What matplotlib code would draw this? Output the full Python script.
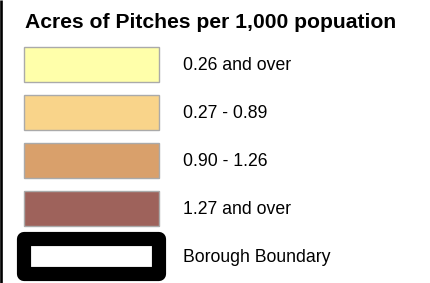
import matplotlib
matplotlib.use('Agg')
import matplotlib.pyplot as plt
from matplotlib.patches import Rectangle

plt.rcParams['font.family'] = ['Liberation Sans', 'DejaVu Sans']

title = "Acres of Pitches per 1,000 popuation"
labels = ["0.26 and over", "0.27 - 0.89", "0.90 - 1.26", "1.27 and over"]
colors = ["#FFFFAA", "#F9D48A", "#D9A06B", "#9E625B"]
boundary_label = "Borough Boundary"

W, H = 430, 283
fig = plt.figure(figsize=(W / 100, H / 100), dpi=100)
ax = fig.add_axes([0, 0, 1, 1])
ax.set_xlim(0, W)
ax.set_ylim(H, 0)
ax.axis('off')

# left frame line
ax.plot([1.2, 1.2], [0, H], color='black', lw=1.9, solid_capstyle='butt')

ax.text(25, 28, title, fontsize=15.2, fontweight='bold', va='baseline', ha='left')

x0, sw_w, sw_h = 24, 135, 35
top0, step = 47, 48
for i, (lab, col) in enumerate(zip(labels, colors)):
    y = top0 + i * step
    ax.add_patch(Rectangle((x0, y), sw_w, sw_h, facecolor=col,
                           edgecolor='#AAAAAA', lw=1.0))
    ax.text(183, y + sw_h / 2 + 1, lab, fontsize=12.7, va='center', ha='left')

# borough boundary symbol
by = top0 + 4 * step - 0.5
ax.add_patch(Rectangle((x0, by), sw_w, sw_h, facecolor='white',
                       edgecolor='black', lw=10.2, joinstyle='round'))
ax.text(183, by + sw_h / 2 + 1, boundary_label, fontsize=12.7, va='center', ha='left')

fig.savefig('out.png', dpi=100)
